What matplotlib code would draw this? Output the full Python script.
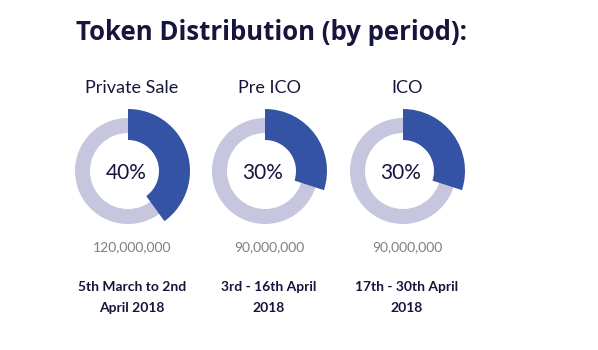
import matplotlib
matplotlib.use("Agg")
import matplotlib.pyplot as plt
from matplotlib.patches import Wedge

# data
periods = ["Private Sale", "Pre ICO", "ICO"]
shares = [40, 30, 30]
tokens = [120000000, 90000000, 90000000]
dates = [["5th March to 2nd", "April 2018"], ["3rd - 16th April", "2018"], ["17th - 30th April", "2018"]]

# style
blue = "#3453a4"
ring = "#c6c6de"
navy = "#15153d"
grey = "#7d7d85"

W, H = 598, 350
fig = plt.figure(figsize=(W / 100, H / 100), dpi=100)
ax = fig.add_axes([0, 0, 1, 1])
ax.set_xlim(0, W)
ax.set_ylim(0, H)
ax.set_aspect("equal")
ax.axis("off")


def y(px):
    # convert from top-down pixel rows
    return H - px


ax.text(76, y(32), "Token Distribution (by period):", fontsize=18.5, fontweight="bold",
        family="Open Sans", color=navy, ha="left", va="center")

centers = [128, 265, 403]
cy = y(171)
for cx, name, share, n, d in zip(centers, periods, shares, tokens, dates):
    # background ring
    ax.add_patch(Wedge((cx, cy), 53, 0, 360, width=15, facecolor=ring, edgecolor="none"))
    # share wedge, clockwise from 12 o'clock
    ax.add_patch(Wedge((cx, cy), 62, 90 - 360 * share / 100, 90, width=31,
                       facecolor=blue, edgecolor="none"))
    ax.text(cx - 2, y(173), f"{share}%", fontsize=15, family="Lato",
            color=navy, ha="center", va="center")
    ax.text(cx + 4, y(88), name, fontsize=13, family="Lato",
            color=navy, ha="center", va="center")
    ax.text(cx + 4, y(247), f"{n:,}", fontsize=10, family="Lato",
            color=grey, ha="center", va="center")
    for i, line in enumerate(d):
        ax.text(cx + 4, y(287 + 21 * i), line, fontsize=10, fontweight="bold", family="Lato",
                color=navy, ha="center", va="center")

fig.savefig("out.png", dpi=100, facecolor="white")
